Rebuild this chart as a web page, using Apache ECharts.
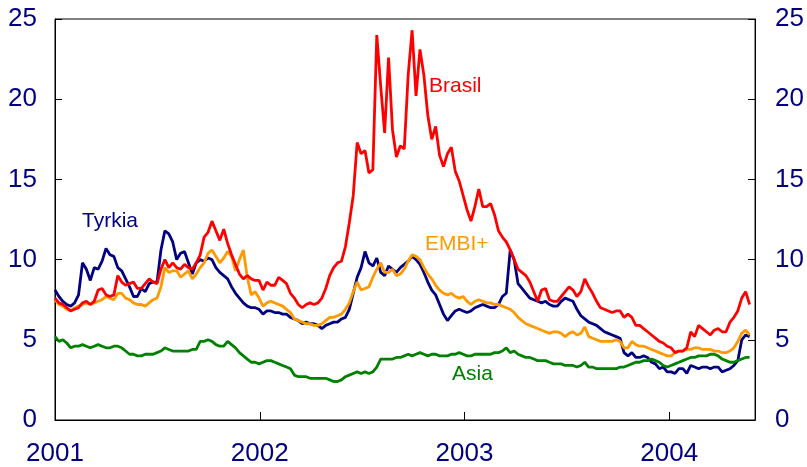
<!DOCTYPE html>
<html>
<head>
<meta charset="utf-8">
<script src="https://cdn.jsdelivr.net/npm/echarts@6/dist/echarts.min.js"></script>
<style>
  html, body { margin: 0; padding: 0; background: #fff; }
  #chart { width: 807px; height: 467px; }
</style>
</head>
<body>
<div id="chart"></div>
<script type="text/javascript">
// weekly observations, first week of January 2001 onwards (per cent)
const startYear = 2001;
const weekInYears = 7 / 365.25;
const yearTicks = [2001, 2002, 2003, 2004];

const brasil = [
  7.6,7.3,7.2,7.0,6.8,6.9,7.0,7.3,7.4,7.2,
  7.4,8.1,8.2,7.8,7.7,7.8,9.0,8.6,8.4,8.5,
  8.6,8.2,8.2,8.5,8.8,8.6,8.5,9.4,10.0,9.5,
  9.8,9.5,9.4,9.7,9.5,9.4,9.8,10.3,11.4,11.7,
  12.4,11.8,11.2,11.9,11.0,10.3,9.7,9.1,8.8,9.0,
  8.8,8.7,8.7,8.1,8.6,8.4,8.4,8.9,8.7,8.5,
  7.9,7.6,7.2,7.0,7.2,7.3,7.2,7.3,7.6,8.2,
  9.0,9.5,9.8,9.9,10.8,12.3,14.0,17.3,16.6,16.8,
  15.4,15.6,24.0,20.8,17.9,22.6,18.1,16.4,17.1,16.9,
  21.5,24.3,20.2,23.1,21.5,19.0,17.5,18.3,16.5,15.8,
  16.6,17.0,15.5,14.9,14.0,13.1,12.4,13.3,14.4,13.3,
  13.3,13.5,12.8,11.8,11.4,11.1,10.6,10.0,9.4,9.2,
  9.0,8.6,8.0,7.4,8.1,8.2,7.5,7.4,7.4,7.7,
  8.0,8.3,8.1,7.7,8.0,8.8,8.3,7.9,7.4,7.0,
  6.9,6.8,6.7,6.8,6.8,6.4,6.6,6.4,5.9,5.9,
  5.7,5.5,5.3,5.1,4.9,4.8,4.6,4.5,4.2,4.3,
  4.3,4.5,5.5,5.2,5.9,5.7,5.5,5.3,5.6,5.7,
  5.5,5.5,6.1,6.4,6.8,7.6,8.0,7.2
];

const tyrkia = [
  8.1,7.7,7.4,7.2,7.1,7.3,7.8,9.8,9.4,8.7,
  9.5,9.4,9.9,10.7,10.3,10.2,9.5,9.3,8.8,8.3,
  7.7,7.7,8.2,8.0,8.5,8.6,8.6,10.6,11.8,11.6,
  11.1,10.0,10.4,10.5,9.8,9.1,9.8,10.0,9.9,10.1,
  10.0,9.5,9.2,9.0,8.8,8.3,7.9,7.6,7.3,7.1,
  7.0,7.0,6.9,6.6,6.8,6.8,6.7,6.7,6.6,6.6,
  6.4,6.3,6.2,6.0,6.1,6.0,6.0,5.9,5.7,5.9,
  6.0,6.1,6.1,6.3,6.4,6.9,7.9,8.9,9.5,10.5,
  9.8,9.6,10.1,9.2,9.0,9.6,9.4,9.2,9.5,9.7,
  9.9,10.2,10.0,9.7,9.2,8.6,8.1,7.8,7.2,6.6,
  6.2,6.5,6.8,6.9,6.8,6.7,6.8,7.0,7.1,7.2,
  7.1,7.0,7.0,7.2,7.7,7.9,10.6,10.0,8.5,8.2,
  7.9,7.6,7.5,7.4,7.3,7.4,7.2,7.1,7.1,7.4,
  7.6,7.5,7.4,6.9,6.5,6.3,6.1,6.0,5.9,5.7,
  5.5,5.4,5.3,5.2,5.1,4.2,4.0,4.2,3.9,3.9,
  4.0,3.9,3.6,3.5,3.2,3.3,3.0,3.0,2.9,3.2,
  3.2,2.9,3.4,3.3,3.2,3.3,3.3,3.2,3.3,3.3,
  3.0,3.1,3.2,3.4,3.7,5.0,5.3,5.2
];

const embi = [
  7.5,7.2,7.1,6.9,6.8,7.0,7.1,7.2,7.3,7.2,
  7.3,7.4,7.5,7.7,7.6,7.5,7.9,7.9,7.6,7.5,
  7.3,7.2,7.2,7.1,7.3,7.5,7.6,8.3,9.5,9.2,
  9.3,9.3,8.9,9.1,9.3,8.8,9.1,9.5,9.8,10.4,
  10.6,10.2,9.8,10.1,10.5,10.2,9.3,10.0,10.6,8.9,
  7.8,8.0,7.6,7.1,7.3,7.4,7.3,7.2,7.1,6.9,
  6.7,6.3,6.2,6.1,6.0,6.0,5.9,5.9,6.0,6.2,
  6.4,6.4,6.5,6.6,6.9,7.3,8.0,8.6,8.1,8.2,
  8.3,8.9,9.4,9.8,9.2,9.2,9.4,9.0,9.1,9.4,
  9.9,10.3,10.2,10.0,9.5,9.1,8.8,8.4,8.1,7.9,
  7.8,7.9,7.7,7.6,7.7,7.4,7.2,7.4,7.5,7.4,
  7.3,7.3,7.2,7.2,7.1,7.0,6.9,6.7,6.4,6.2,
  6.0,5.9,5.8,5.7,5.6,5.5,5.4,5.5,5.5,5.4,
  5.2,5.4,5.5,5.3,5.4,5.8,5.2,5.1,5.0,4.9,
  4.9,4.9,4.9,5.0,4.9,4.5,4.5,4.9,4.7,4.6,
  4.6,4.5,4.4,4.3,4.2,4.1,4.0,4.0,4.2,4.3,
  4.3,4.4,4.4,4.5,4.5,4.4,4.4,4.4,4.3,4.3,
  4.2,4.2,4.3,4.5,4.9,5.4,5.6,5.3
];

const asia = [
  5.2,4.9,5.0,4.8,4.5,4.6,4.6,4.7,4.6,4.5,
  4.6,4.7,4.6,4.5,4.5,4.6,4.6,4.5,4.3,4.1,
  4.1,4.0,4.0,4.1,4.1,4.1,4.2,4.3,4.5,4.4,
  4.3,4.3,4.3,4.3,4.3,4.4,4.4,4.9,4.9,5.0,
  4.9,4.7,4.6,4.6,4.9,4.7,4.5,4.2,4.0,3.8,
  3.6,3.6,3.5,3.6,3.7,3.7,3.6,3.5,3.4,3.3,
  3.2,2.8,2.7,2.7,2.7,2.6,2.6,2.6,2.6,2.6,
  2.5,2.4,2.4,2.5,2.7,2.8,2.9,3.0,2.9,3.0,
  2.9,3.0,3.3,3.8,3.8,3.8,3.8,3.9,3.9,4.0,
  4.1,4.0,4.1,4.2,4.1,4.0,4.1,4.1,4.0,4.0,
  4.0,4.1,4.1,4.2,4.1,4.0,4.0,4.1,4.1,4.1,
  4.1,4.1,4.2,4.2,4.3,4.5,4.2,4.3,4.1,4.0,
  3.9,3.9,3.8,3.7,3.7,3.7,3.6,3.5,3.5,3.5,
  3.4,3.4,3.4,3.3,3.4,3.6,3.3,3.3,3.2,3.2,
  3.2,3.2,3.2,3.2,3.3,3.3,3.4,3.5,3.6,3.6,
  3.7,3.7,3.8,3.7,3.6,3.4,3.3,3.4,3.5,3.6,
  3.7,3.8,3.9,3.9,4.0,4.0,4.0,4.1,4.1,4.0,
  3.8,3.7,3.6,3.6,3.7,3.8,3.9,3.9
];

const NAVY = '#000080';
const FONT = '"Liberation Sans", Arial, sans-serif';

function weekly(values) {
  return values.map(function (v, i) { return [startYear + i * weekInYears, v]; });
}

function line(name, values, color) {
  return {
    name: name,
    type: 'line',
    data: weekly(values),
    showSymbol: false,
    lineStyle: { color: color, width: 2.8 },
    itemStyle: { color: color },
    silent: true
  };
}

function yAxis(side) {
  return {
    type: 'value',
    position: side,
    min: 0,
    max: 25,
    interval: 5,
    axisLine: { show: true, lineStyle: { color: '#000', width: 1 } },
    axisTick: { show: true, inside: true, length: 7, lineStyle: { color: '#000' } },
    axisLabel: { color: NAVY, fontFamily: FONT, fontSize: 26, margin: side === 'left' ? 18 : 20 },
    splitLine: { show: false }
  };
}

const chart = echarts.init(document.getElementById('chart'), null, { renderer: 'canvas' });
chart.setOption({
  animation: false,
  backgroundColor: '#fff',
  grid: {
    left: 55, right: 50, top: 19, bottom: 46,
    show: true, borderColor: '#000', borderWidth: 1
  },
  xAxis: {
    type: 'value',
    min: yearTicks[0],
    max: 2004.419,
    interval: 1,
    axisLine: { show: true, lineStyle: { color: '#000', width: 1 } },
    axisTick: { show: true, inside: true, length: 8, lineStyle: { color: '#000' } },
    axisLabel: {
      color: NAVY, fontFamily: FONT, fontSize: 26, margin: 21,
      showMaxLabel: false,
      formatter: function (v) { return yearTicks.indexOf(v) >= 0 ? String(v) : ''; }
    },
    splitLine: { show: false }
  },
  yAxis: [yAxis('left'), yAxis('right')],
  series: [
    line('Tyrkia', tyrkia, NAVY),
    line('Asia', asia, '#008000'),
    line('EMBI+', embi, '#FF9900'),
    line('Brasil', brasil, '#FF0000')
  ],
  graphic: [
    { type: 'text', left: 82, top: 211, style: { text: 'Tyrkia', fill: NAVY, font: '21px ' + FONT } },
    { type: 'text', left: 429, top: 76, style: { text: 'Brasil', fill: '#FF0000', font: '21px ' + FONT } },
    { type: 'text', left: 425, top: 234, style: { text: 'EMBI+', fill: '#FF9900', font: '21px ' + FONT } },
    { type: 'text', left: 452, top: 364, style: { text: 'Asia', fill: '#008000', font: '21px ' + FONT } }
  ]
});
</script>
</body>
</html>
